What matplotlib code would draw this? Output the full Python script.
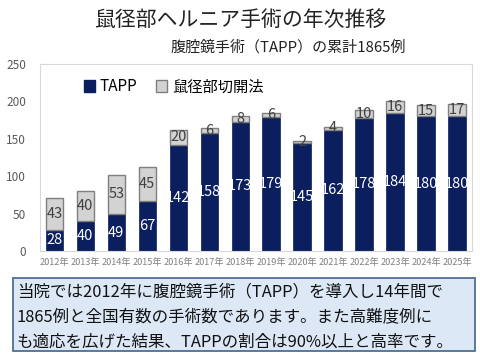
import matplotlib.pyplot as plt
from matplotlib.patches import Patch, FancyBboxPatch

plt.rcParams['font.family'] = ['Noto Sans CJK JP', 'DejaVu Sans']

years = ['2012年', '2013年', '2014年', '2015年', '2016年', '2017年', '2018年',
         '2019年', '2020年', '2021年', '2022年', '2023年', '2024年', '2025年']
tapp = [28, 40, 49, 67, 142, 158, 173, 179, 145, 162, 178, 184, 180, 180]
open_cut = [43, 40, 53, 45, 20, 6, 8, 6, 2, 4, 10, 16, 15, 17]

navy = '#0b1f5e'
light = '#d3d3d3'

fig = plt.figure(figsize=(4.8, 3.6), dpi=100)
ax = fig.add_axes([0.083, 0.303, 0.9, 0.519])

x = range(len(years))
ax.bar(x, tapp, width=0.56, color=navy, edgecolor=navy, linewidth=0.5)
ax.bar(x, open_cut, bottom=tapp, width=0.56, color=light, edgecolor='#7f7f7f', linewidth=1)

for i in x:
    ax.text(i, tapp[i] / 2, str(tapp[i]), ha='center', va='center',
            color='white', fontsize=10.5)
    ax.text(i, tapp[i] + open_cut[i] / 2, str(open_cut[i]), ha='center', va='center',
            color='#404040', fontsize=10.5)

ax.set_xlim(-0.47, 13.48)
ax.set_ylim(0, 250)
ax.set_yticks([0, 50, 100, 150, 200, 250])
ax.set_xticks(list(x))
ax.set_xticklabels(years, fontsize=6.6, color='#808080')
ax.tick_params(axis='y', length=0, labelsize=8.5, labelcolor='#595959', pad=10)
ax.tick_params(axis='x', length=0, pad=5)
for s in ax.spines.values():
    s.set_color('#d9d9d9')

handles = [Patch(facecolor=navy, edgecolor=navy),
           Patch(facecolor=light, edgecolor='#7f7f7f')]
ax.legend(handles, ['TAPP', '鼠径部切開法'], loc='center left',
          bbox_to_anchor=(0.07, 0.878), ncol=2, frameon=False, fontsize=11,
          handlelength=0.75, handleheight=0.75, handletextpad=0.3, columnspacing=1.2)

fig.text(0.5, 0.945, '鼠径部ヘルニア手術の年次推移', ha='center', va='center',
         fontsize=15, color='#222222')
fig.text(0.6, 0.868, '腹腔鏡手術（TAPP）の累計1865例', ha='center', va='center',
         fontsize=10.8, color='#222222')

box = FancyBboxPatch((0.027, 0.025), 0.963, 0.203, boxstyle='square,pad=0',
                     transform=fig.transFigure, facecolor='#dce8f6',
                     edgecolor='#4f6f95', linewidth=1.3)
fig.patches.append(box)
lines = ['当院では2012年に腹腔鏡手術（TAPP）を導入し14年間で',
         '1865例と全国有数の手術数であります。また高難度例に',
         'も適応を広げた結果、TAPPの割合は90%以上と高率です。']
for k, t in enumerate(lines):
    fig.text(0.035, 0.189 - k * 0.07, t, ha='left', va='center',
             fontsize=11.9, color='#111111')

plt.savefig('out.png', dpi=100)
